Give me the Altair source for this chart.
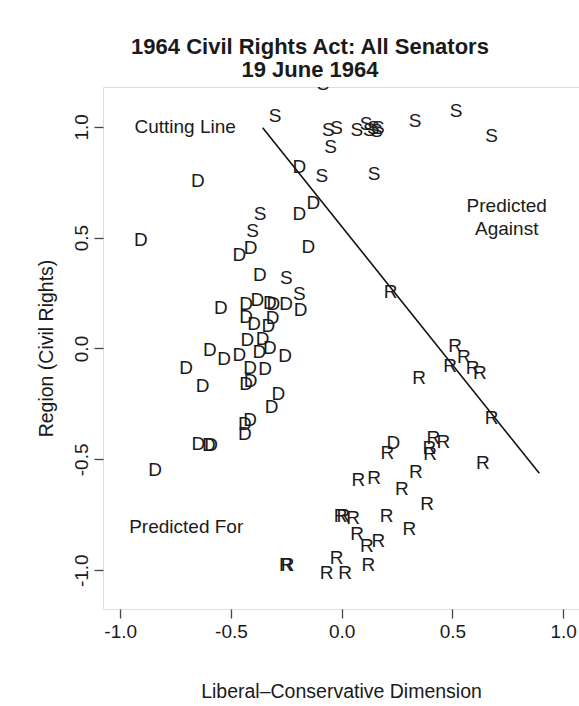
import altair as alt
import pandas as pd

# ---- data ----
s_x = [-0.084, -0.301, -0.060, -0.023, -0.050, 0.068, 0.110, 0.125, 0.143, 0.158,
       0.165, 0.331, 0.516, 0.677, -0.090, 0.146, -0.369, -0.402, -0.250, -0.191]
s_y = [1.197, 1.053, 0.989, 1.000, 0.913, 0.991, 1.016, 0.989, 1.000, 0.986,
       1.000, 1.031, 1.076, 0.963, 0.783, 0.793, 0.613, 0.535, 0.322, 0.249]

d_x = [-0.191, -0.650, -0.907, -0.128, -0.191, -0.151, -0.411, -0.462, -0.370, -0.546,
       -0.432, -0.381, -0.324, -0.309, -0.251, -0.185, -0.432, -0.312, -0.396, -0.331,
       -0.426, -0.357, -0.595, -0.531, -0.462, -0.372, -0.324, -0.256, -0.703, -0.414,
       -0.346, -0.628, -0.432, -0.411, -0.286, -0.316, -0.414, -0.437, -0.437, -0.647,
       -0.600, -0.590, -0.843, 0.233]
d_y = [0.823, 0.760, 0.493, 0.662, 0.613, 0.462, 0.459, 0.426, 0.335, 0.186,
       0.204, 0.222, 0.211, 0.204, 0.204, 0.177, 0.147, 0.143, 0.114, 0.106,
       0.041, 0.046, -0.004, -0.044, -0.025, -0.010, 0.005, -0.029, -0.082, -0.082,
       -0.089, -0.165, -0.154, -0.142, -0.199, -0.259, -0.319, -0.337, -0.383, -0.428,
       -0.431, -0.431, -0.543, -0.420]

r_x = [0.221, 0.512, 0.552, 0.489, 0.591, 0.624, 0.350, 0.677, 0.206, 0.414,
       0.459, 0.396, 0.399, 0.075, 0.146, 0.335, 0.271, 0.386, 0.637, -0.005,
       0.008, 0.052, 0.203, 0.070, 0.113, 0.165, 0.305, -0.023, -0.068, 0.015,
       0.120, -0.252, -0.244]
r_y = [0.261, 0.016, -0.034, -0.074, -0.082, -0.105, -0.127, -0.308, -0.465, -0.398,
       -0.416, -0.443, -0.473, -0.590, -0.578, -0.551, -0.631, -0.696, -0.511, -0.751,
       -0.751, -0.759, -0.751, -0.834, -0.886, -0.864, -0.811, -0.939, -1.007, -1.007,
       -0.972, -0.972, -0.972]

cut_x = [-0.357, 0.892]
cut_y = [0.996, -0.563]

note_text = ["Cutting Line", "Predicted For"]
note_x = [-0.707, -0.702]
note_y = [1.000, -0.804]

against_lines = ["Predicted", "Against"]
against_x = 0.745
against_y = 0.594

x_ticks = [-1.0, -0.5, 0.0, 0.5, 1.0]
y_ticks = [-1.0, -0.5, 0.0, 0.5, 1.0]

FONT = "Liberation Sans"
INK = "#1a1a1a"
FS = 19

pts = pd.DataFrame({
    "label": ["S"] * len(s_x) + ["D"] * len(d_x) + ["R"] * len(r_x),
    "x": s_x + d_x + r_x,
    "y": s_y + d_y + r_y,
})
cut = pd.DataFrame({"x": cut_x, "y": cut_y})
notes = pd.DataFrame({"t": note_text, "x": note_x, "y": note_y})
against = pd.DataFrame({"t": [against_lines], "x": [against_x], "y": [against_y]})

xs = alt.Scale(domain=[-1.0777, 1.0713], nice=False, zero=False)
ys = alt.Scale(domain=[-1.175, 1.1795], nice=False, zero=False)

label_expr = "datum.value < 0 ? '-' + format(-datum.value, '.1f') : format(datum.value, '.1f')"

x_axis = alt.Axis(
    values=x_ticks, title="Liberal\u2013Conservative Dimension", grid=False, domain=False,
    tickSize=9, tickWidth=1.3, tickColor="#444",
    labelExpr=label_expr,
    labelFont=FONT, labelFontSize=FS, labelColor=INK, labelPadding=4,
    titleFont=FONT, titleFontSize=19.5, titleFontWeight="normal", titleColor=INK,
    titleY=88, titleBaseline="alphabetic",
)
y_axis = alt.Axis(
    values=y_ticks, title="Region (Civil Rights)", grid=False, domain=False,
    tickSize=9, tickWidth=1.3, tickColor="#444",
    labelExpr=label_expr,
    labelAngle=-90, labelAlign="center", labelBaseline="alphabetic",
    labelFont=FONT, labelFontSize=FS, labelColor=INK, labelPadding=7,
    titleFont=FONT, titleFontSize=19.5, titleFontWeight="normal", titleColor=INK,
    titleX=-51, titleY=261, titleAngle=-90, titleAlign="center", titleBaseline="alphabetic",
)

points = alt.Chart(pts).mark_text(
    font=FONT, fontSize=FS, color=INK, align="center", baseline="middle", dy=1, clip=True
).encode(
    x=alt.X("x:Q", scale=xs, axis=x_axis),
    y=alt.Y("y:Q", scale=ys, axis=y_axis),
    text="label:N",
)

line = alt.Chart(cut).mark_line(color="#111", strokeWidth=1.6).encode(
    x=alt.X("x:Q", scale=xs), y=alt.Y("y:Q", scale=ys)
)

note_layer = alt.Chart(notes).mark_text(
    font=FONT, fontSize=FS, color=INK, align="center", baseline="middle", dy=0
).encode(x=alt.X("x:Q", scale=xs), y=alt.Y("y:Q", scale=ys), text="t:N")

against_layer = alt.Chart(against).mark_text(
    font=FONT, fontSize=FS, color=INK, align="center", baseline="middle",
    lineHeight=23, dy=-11
).encode(x=alt.X("x:Q", scale=xs), y=alt.Y("y:Q", scale=ys), text="t")

chart = alt.layer(line, points, note_layer, against_layer).properties(
    width=476, height=522,
    title=alt.TitleParams(
        ["1964 Civil Rights Act: All Senators", "19 June 1964"],
        font=FONT, fontSize=22, fontWeight="bold", color=INK,
        anchor="middle", baseline="bottom", offset=7, lineHeight=23, dy=24, dx=-31,
    ),
    autosize=alt.AutoSizeParams(type="none"),
    padding={"left": 103, "top": 87, "right": 0, "bottom": 97},
).configure_view(stroke="#555", strokeWidth=1.5).configure(background="white")

chart.save("out.html", embed_options={"renderer": "svg", "actions": False})
